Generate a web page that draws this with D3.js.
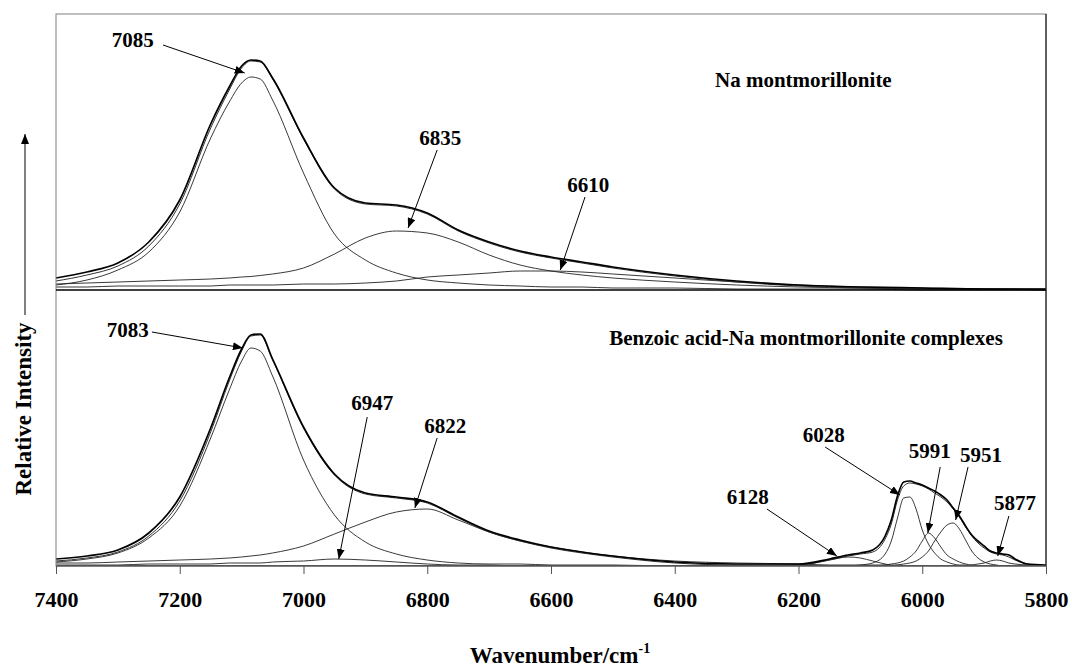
<!DOCTYPE html>
<html>
<head>
<meta charset="utf-8">
<script src="https://cdn.jsdelivr.net/npm/d3@7"></script>
<style>
  body { margin: 0; background: #fff; }
  svg { display: block; }
  svg text { font-family: "Liberation Serif", "Times New Roman", serif; font-weight: bold; }
</style>
</head>
<body>
<div id="viz"></div>
<script>
/*** data (intensity in arbitrary units) ***/
const topWn = [7400, 7350, 7300, 7250, 7200, 7150, 7120, 7100, 7085, 7070, 7050, 7000, 6950, 6900, 6850,
  6800, 6750, 6700, 6650, 6600, 6550, 6500, 6400, 6300, 6200, 6100, 6000, 5900, 5800];
const topObserved = [12, 18, 27, 48, 90, 166, 203, 224, 230, 229, 212, 152, 102, 87, 85,
  77, 60, 48, 39, 33, 28, 23, 15, 9, 5, 3, 2, 1, 1];
const topFit = [9, 15, 24, 44, 86, 162, 200, 222, 229, 228, 211, 151, 101, 86, 84,
  76, 59, 47, 38, 32, 27, 22, 14, 8, 4, 2, 1, 1, 0];
const top7085 = [5, 10, 20, 38, 78, 152, 188, 207, 213, 211, 190, 117, 56, 30, 17,
  10, 7, 5, 4, 3, 3, 2, 2, 1, 1, 1, 0, 0, 0];
const top6835 = [6, 7, 8, 9, 10, 11, 12, 13, 13.5, 14.5, 16, 22, 36, 52, 59,
  57, 48, 35, 25, 19, 15, 12, 8, 5, 3, 2, 1, 1, 0];
const top6610 = [3, 3, 4, 4, 4, 4, 5, 5, 5, 5, 5, 6, 6, 7, 9,
  13, 15, 17, 19, 19, 18, 16, 12, 8, 5, 3, 2, 1, 1];

const botWn = [7400, 7350, 7300, 7250, 7200, 7150, 7120, 7100, 7085, 7070, 7050, 7000, 6950, 6900, 6850,
  6800, 6750, 6700, 6650, 6600, 6550, 6500, 6400, 6300,
  6200, 6150, 6120, 6100, 6080, 6060, 6050, 6040, 6030, 6020, 6010, 6000,
  5990, 5980, 5970, 5960, 5950, 5940, 5930, 5920, 5910, 5900,
  5890, 5880, 5870, 5860, 5850, 5830, 5800];
const botObserved = [7, 10, 16, 33, 69, 138, 188, 217, 231, 232, 207, 139, 92, 73, 69,
  64, 49, 35, 26, 19, 14, 10, 4, 2,
  2, 7, 11, 13, 16, 30, 46, 70, 84, 85, 83, 81,
  78, 75, 71, 66, 58, 50, 40, 31, 25, 20,
  15, 13, 12, 11, 7, 2, 1];
const botFit = [5, 8, 14, 30, 65, 134, 185, 215, 230, 231, 206, 138, 91, 72, 68,
  63, 48, 34, 25, 18, 13, 9, 3, 1,
  1, 6, 10, 12, 14, 27, 42, 66, 80, 83, 82, 80,
  77, 73, 69, 64, 57, 49, 39, 30, 23, 18,
  14, 12, 11, 9, 6, 2, 0];
const bot7083 = [4, 7, 13, 28, 60, 128, 176, 205, 218, 215, 190, 106, 51, 24, 12,
  6, 3, 2, 2, 1, 1, 1, 0, 0,
  0, 0, 0, 0, 0, 0, 0, 0, 0, 0, 0, 0,
  0, 0, 0, 0, 0, 0, 0, 0, 0, 0,
  0, 0, 0, 0, 0, 0, 0];
const bot6947 = [1, 1, 1, 2, 2, 2, 3, 3, 3, 3, 4, 5, 7, 6, 4,
  2, 1, 1, 0, 0, 0, 0, 0, 0,
  0, 0, 0, 0, 0, 0, 0, 0, 0, 0, 0, 0,
  0, 0, 0, 0, 0, 0, 0, 0, 0, 0,
  0, 0, 0, 0, 0, 0, 0];
const bot6822 = [3, 3, 4, 5, 6, 7, 8, 9, 10, 11, 13, 20, 32, 44, 54,
  57, 46, 34, 25, 19, 14, 10, 5, 3,
  2, 1, 1, 1, 1, 1, 0, 0, 0, 0, 0, 0,
  0, 0, 0, 0, 0, 0, 0, 0, 0, 0,
  0, 0, 0, 0, 0, 0, 0];
const bot6128 = [0, 0, 0, 0, 0, 0, 0, 0, 0, 0, 0, 0, 0, 0, 0,
  0, 0, 0, 0, 0, 0, 0, 0, 0,
  1, 6, 9, 8, 5, 2, 1, 1, 0, 0, 0, 0,
  0, 0, 0, 0, 0, 0, 0, 0, 0, 0,
  0, 0, 0, 0, 0, 0, 0];
const bot6028 = [0, 0, 0, 0, 0, 0, 0, 0, 0, 0, 0, 0, 0, 0, 0,
  0, 0, 0, 0, 0, 0, 0, 0, 0,
  0, 0, 0, 1, 3, 12, 25, 48, 68, 69, 57, 36,
  22, 13, 7, 4, 2, 1, 1, 0, 0, 0,
  0, 0, 0, 0, 0, 0, 0];
const bot5991 = [0, 0, 0, 0, 0, 0, 0, 0, 0, 0, 0, 0, 0, 0, 0,
  0, 0, 0, 0, 0, 0, 0, 0, 0,
  0, 0, 0, 0, 0, 1, 2, 3, 5, 9, 15, 25,
  33, 28, 19, 11, 7, 4, 2, 1, 0, 0,
  0, 0, 0, 0, 0, 0, 0];
const bot5951 = [0, 0, 0, 0, 0, 0, 0, 0, 0, 0, 0, 0, 0, 0, 0,
  0, 0, 0, 0, 0, 0, 0, 0, 0,
  0, 0, 0, 0, 0, 0, 0, 1, 2, 3, 5, 9,
  15, 25, 34, 41, 43, 37, 26, 15, 8, 4,
  2, 1, 0, 0, 0, 0, 0];
const bot5877 = [0, 0, 0, 0, 0, 0, 0, 0, 0, 0, 0, 0, 0, 0, 0,
  0, 0, 0, 0, 0, 0, 0, 0, 0,
  0, 0, 0, 0, 0, 0, 0, 0, 0, 0, 0, 0,
  0, 0, 0, 0, 0, 0, 0, 1, 2, 3,
  5, 6, 5, 3, 2, 1, 0];

const xTicks = [7400, 7200, 7000, 6800, 6600, 6400, 6200, 6000, 5800];

// peak labels: text centre (tx, ty) and arrow from (x1, y1) to (x2, y2), in wavenumber / intensity
const topLabels = [
  { text: "7085", tx: 7276, ty: 243, x1: 7227, y1: 245, x2: 7095, y2: 217 },
  { text: "6835", tx: 6779, ty: 145, x1: 6784, y1: 140, x2: 6831, y2: 62 },
  { text: "6610", tx: 6540, ty: 98, x1: 6545, y1: 93, x2: 6585, y2: 20 }
];
const botLabels = [
  { text: "7083", tx: 7284, ty: 229, x1: 7245, y1: 234, x2: 7098, y2: 218 },
  { text: "6947", tx: 6889, ty: 156, x1: 6897, y1: 149, x2: 6943, y2: 7 },
  { text: "6822", tx: 6771, ty: 133, x1: 6784, y1: 128, x2: 6820, y2: 58 },
  { text: "6128", tx: 6282, ty: 62, x1: 6251, y1: 57, x2: 6138, y2: 10 },
  { text: "6028", tx: 6159, ty: 124, x1: 6157, y1: 119, x2: 6036, y2: 71 },
  { text: "5991", tx: 5988, ty: 108, x1: 5971, y1: 99, x2: 5991, y2: 33 },
  { text: "5951", tx: 5905, ty: 104, x1: 5926, y1: 99, x2: 5946, y2: 46 },
  { text: "5877", tx: 5850, ty: 56, x1: 5860, y1: 50, x2: 5878, y2: 10 }
];
const topTitle = { text: "Na montmorillonite", wn: 6335, y: 203 };
const botTitle = { text: "Benzoic acid-Na montmorillonite complexes", wn: 6506, y: 221 };

/*** layout ***/
const width = 1072, height = 669;
const plotLeft = 56, plotRight = 1046, plotTop = 14, plotMid = 290, plotBottom = 566;

const svg = d3.select("#viz").append("svg")
  .attr("width", width)
  .attr("height", height);

const defs = svg.append("defs");
defs.append("marker")
  .attr("id", "head")
  .attr("viewBox", "0 0 10 8")
  .attr("refX", 10).attr("refY", 4)
  .attr("markerWidth", 10).attr("markerHeight", 8)
  .attr("markerUnits", "userSpaceOnUse")
  .attr("orient", "auto")
  .append("path")
  .attr("d", "M0,0L10,4L0,8Z")
  .attr("fill", "#000");

const x = d3.scaleLinear().domain([7400, 5800]).range([plotLeft, plotRight]);
const yTop = d3.scaleLinear().domain([0, 276]).range([plotMid, plotTop]);
const yBot = d3.scaleLinear().domain([0, 276]).range([plotBottom, plotMid]);

function drawPanel(wn, series, y, labels, title) {
  const g = svg.append("g");
  series.forEach(s => {
    const line = d3.line()
      .x((d, i) => x(wn[i]))
      .y(d => y(d))
      .curve(d3.curveMonotoneX);
    g.append("path")
      .attr("d", line(s.values))
      .attr("fill", "none")
      .attr("stroke", s.color)
      .attr("stroke-width", s.width);
  });

  g.selectAll("line.arrow")
    .data(labels)
    .join("line")
    .attr("class", "arrow")
    .attr("x1", d => x(d.x1)).attr("y1", d => y(d.y1))
    .attr("x2", d => x(d.x2)).attr("y2", d => y(d.y2))
    .attr("stroke", "#000")
    .attr("stroke-width", 1)
    .attr("marker-end", "url(#head)");

  g.selectAll("text.peak")
    .data(labels)
    .join("text")
    .attr("class", "peak")
    .attr("x", d => x(d.tx))
    .attr("y", d => y(d.ty))
    .attr("text-anchor", "middle")
    .attr("font-size", 21)
    .text(d => d.text);

  g.append("text")
    .attr("x", x(title.wn))
    .attr("y", y(title.y))
    .attr("font-size", 21)
    .text(title.text);
}

drawPanel(topWn, [
  { values: top6610, color: "#222", width: 0.9 },
  { values: top6835, color: "#222", width: 0.9 },
  { values: top7085, color: "#222", width: 0.9 },
  { values: topFit, color: "#333", width: 1 },
  { values: topObserved, color: "#000", width: 1.7 }
], yTop, topLabels, topTitle);

drawPanel(botWn, [
  { values: bot6947, color: "#222", width: 0.9 },
  { values: bot6822, color: "#222", width: 0.9 },
  { values: bot7083, color: "#222", width: 0.9 },
  { values: bot6128, color: "#222", width: 0.9 },
  { values: bot6028, color: "#222", width: 0.9 },
  { values: bot5991, color: "#222", width: 0.9 },
  { values: bot5951, color: "#222", width: 0.9 },
  { values: bot5877, color: "#222", width: 0.9 },
  { values: botFit, color: "#333", width: 1 },
  { values: botObserved, color: "#000", width: 1.7 }
], yBot, botLabels, botTitle);

// frame
svg.append("rect")
  .attr("x", plotLeft).attr("y", plotTop)
  .attr("width", plotRight - plotLeft).attr("height", plotBottom - plotTop)
  .attr("fill", "none")
  .attr("stroke", "#808080")
  .attr("stroke-width", 1);
svg.append("line")
  .attr("x1", plotRight).attr("x2", plotRight)
  .attr("y1", plotTop).attr("y2", plotBottom)
  .attr("stroke", "#000");
svg.append("line")
  .attr("x1", plotLeft).attr("x2", plotRight)
  .attr("y1", plotMid).attr("y2", plotMid)
  .attr("stroke", "#000")
  .attr("stroke-width", 1.5);

// x axis
const xAxis = svg.append("g")
  .attr("transform", `translate(0,${plotBottom})`)
  .call(d3.axisBottom(x)
    .tickValues(xTicks)
    .tickFormat(d3.format("d"))
    .tickSizeInner(8)
    .tickSizeOuter(0)
    .tickPadding(17));
xAxis.attr("font-family", null).attr("font-size", null);
xAxis.select(".domain").attr("stroke", "#808080");
xAxis.selectAll(".tick line").attr("stroke", "#555");
xAxis.selectAll(".tick text")
  .style("font-family", "'Liberation Serif', 'Times New Roman', serif")
  .style("font-weight", "bold")
  .style("font-size", "22px")
  .attr("fill", "#000");

// axis titles
const xTitle = svg.append("text")
  .attr("x", 560)
  .attr("y", 663)
  .attr("text-anchor", "middle")
  .attr("font-size", 23);
xTitle.append("tspan").text("Wavenumber/cm");
xTitle.append("tspan").attr("font-size", 14).attr("dy", -10).text("-1");

svg.append("text")
  .attr("transform", "translate(31,409) rotate(-90)")
  .attr("text-anchor", "middle")
  .attr("font-size", 23)
  .text("Relative Intensity");

svg.append("line")
  .attr("x1", 25).attr("x2", 25)
  .attr("y1", 315).attr("y2", 134)
  .attr("stroke", "#000")
  .attr("stroke-width", 1)
  .attr("marker-end", "url(#head)");
</script>
</body>
</html>
